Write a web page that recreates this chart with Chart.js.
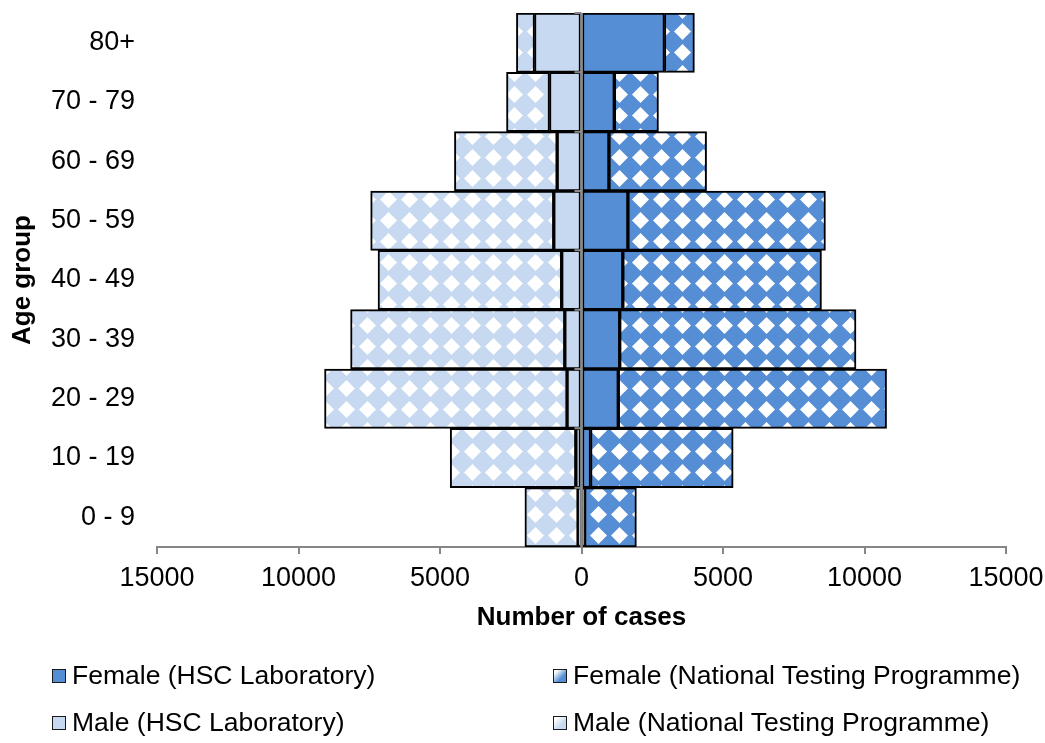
<!DOCTYPE html>
<html>
<head>
<meta charset="utf-8">
<script src="https://cdn.jsdelivr.net/npm/chart.js@4.4.1/dist/chart.umd.min.js"></script>
<style>
  html, body { margin: 0; padding: 0; background: #fff; }
  #wrap { position: relative; width: 1045px; height: 743px; overflow: hidden; }
  #chart { position: absolute; left: 0; top: 0; }
  .legend-item { position: absolute; display: flex; align-items: center; font: 26.5px "Liberation Sans", Arial, sans-serif; color: #000; white-space: nowrap; }
  .swatch { width: 12px; height: 12px; border: 1px solid #1a1a1a; margin-right: 6px; }
</style>
</head>
<body>
<div id="wrap">
  <canvas id="chart" width="1045" height="743"></canvas>
  <div id="legend"></div>
</div>
<script>
// age groups, bottom to top
const ageGroups = ["0 - 9", "10 - 19", "20 - 29", "30 - 39", "40 - 49", "50 - 59", "60 - 69", "70 - 79", "80+"];
const femaleHSC = [110, 320, 1300, 1350, 1460, 1640, 970, 1160, 2930];
const femaleNTP = [1830, 5040, 9480, 8350, 7020, 6980, 3450, 1560, 1060];
const maleHSC = [120, 200, 510, 590, 700, 980, 860, 1130, 1660];
const maleNTP = [1880, 4440, 8570, 7570, 6490, 6470, 3630, 1520, 640];
const xTicks = [-15000, -10000, -5000, 0, 5000, 10000, 15000];

const DARK = "#558ed5";
const LIGHT = "#c6d9f1";

function diamonds(bg) {
  const size = 21;
  const c = document.createElement("canvas");
  c.width = size;
  c.height = size;
  const g = c.getContext("2d");
  g.fillStyle = bg;
  g.fillRect(0, 0, size, size);
  g.fillStyle = "#fff";
  const m = size / 2, r = 8.5;
  g.beginPath();
  g.moveTo(m, m - r);
  g.lineTo(m + r, m);
  g.lineTo(m, m + r);
  g.lineTo(m - r, m);
  g.closePath();
  g.fill();
  return g.createPattern(c, "repeat");
}

const ctx = document.getElementById("chart").getContext("2d");

Chart.defaults.font.family = '"Liberation Sans", Arial, sans-serif';
Chart.defaults.font.size = 27;
Chart.defaults.color = "#000";

const base = { borderColor: "#000", borderWidth: 2, borderSkipped: false, barPercentage: 1, categoryPercentage: 1 };

const datasets = [
  { ...base, label: "Female (HSC Laboratory)", data: femaleHSC, backgroundColor: DARK, swatch: DARK },
  { ...base, label: "Female (National Testing Programme)", data: femaleNTP, backgroundColor: diamonds(DARK),
    swatch: "linear-gradient(135deg, #fff 15%, " + DARK + " 65%)" },
  { ...base, label: "Male (HSC Laboratory)", data: maleHSC.map(v => -v), backgroundColor: LIGHT, swatch: LIGHT },
  { ...base, label: "Male (National Testing Programme)", data: maleNTP.map(v => -v), backgroundColor: diamonds(LIGHT),
    swatch: "linear-gradient(135deg, #fff 15%, " + LIGHT + " 65%)" },
];

// grey vertical axis at zero, with small ticks between the age groups
const zeroAxis = {
  id: "zeroAxis",
  afterDatasetsDraw(chart) {
    const { ctx, chartArea, scales: { x, y } } = chart;
    const x0 = x.getPixelForValue(0);
    const step = Math.abs(y.getPixelForValue(1) - y.getPixelForValue(0));
    ctx.save();
    ctx.strokeStyle = "#8a8a8a";
    ctx.lineWidth = 2.5;
    ctx.beginPath();
    ctx.moveTo(x0, chartArea.top);
    ctx.lineTo(x0, chartArea.bottom);
    ctx.stroke();
    ctx.lineWidth = 2;
    ctx.beginPath();
    ageGroups.forEach((g, i) => {
      const yy = y.getPixelForValue(i) - step / 2;
      ctx.moveTo(x0 - 7, yy);
      ctx.lineTo(x0, yy);
    });
    ctx.stroke();
    ctx.restore();
  },
};

new Chart(ctx, {
  type: "bar",
  data: { labels: ageGroups, datasets },
  plugins: [zeroAxis],
  options: {
    responsive: false,
    animation: false,
    indexAxis: "y",
    layout: { padding: { left: 0, right: 39, top: 13, bottom: 96 } },
    plugins: { legend: { display: false }, tooltip: { enabled: false } },
    scales: {
      x: {
        type: "linear",
        stacked: true,
        min: -15000,
        max: 15000,
        afterBuildTicks: (s) => { s.ticks = xTicks.map(v => ({ value: v })); },
        afterFit: (s) => { s.height = 100; s.paddingLeft = 0; s.paddingRight = 0; },
        ticks: { padding: 8, callback: (v) => String(Math.abs(v)) },
        grid: { display: true, drawOnChartArea: false, drawTicks: true, tickLength: 7, color: "#868686", lineWidth: 2 },
        border: { display: true, color: "#868686", width: 2 },
        title: { display: true, text: "Number of cases", font: { weight: "bold", size: 26 }, padding: { top: 0, bottom: 14 } },
      },
      y: {
        stacked: true,
        reverse: true,
        afterFit: (s) => { s.width = 157; s.paddingTop = 0; s.paddingBottom = 0; },
        ticks: { padding: 22 },
        grid: { display: false, drawTicks: false },
        border: { display: false },
        title: { display: true, text: "Age group", font: { weight: "bold", size: 26 }, padding: { top: 7, bottom: 0 } },
      },
    },
  },
});

// legend in two columns, like the original
const legend = document.getElementById("legend");
const spots = [[52, 660], [553, 660], [52, 707], [553, 707]];
datasets.forEach((d, i) => {
  const item = document.createElement("div");
  item.className = "legend-item";
  item.style.left = spots[i][0] + "px";
  item.style.top = spots[i][1] + "px";
  item.innerHTML = '<span class="swatch" style="background:' + d.swatch + '"></span>' + d.label;
  legend.appendChild(item);
});
</script>
</body>
</html>
